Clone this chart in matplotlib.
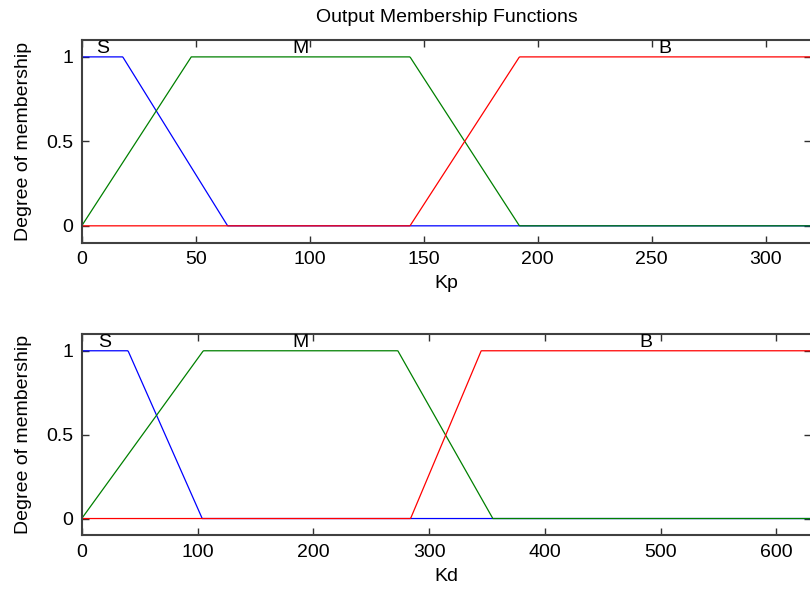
import matplotlib.pyplot as plt
import numpy as np

plt.rcParams['font.family'] = ['Liberation Sans', 'DejaVu Sans']

# trapezoid membership function parameters [a, b, c, d]
kp_range = [0, 320]
kp_names = ["S", "M", "B"]
kp_params = [[0, 0, 18, 64], [0, 48, 144, 192], [144, 192, 320, 320]]
kp_ticks = [0, 50, 100, 150, 200, 250, 300]

kd_range = [0, 630]
kd_names = ["S", "M", "B"]
kd_params = [[0, 0, 40, 104], [0, 105, 273, 355], [284, 345, 630, 630]]
kd_ticks = [0, 100, 200, 300, 400, 500, 600]

colors = ["blue", "green", "red"]


def trapmf(x, p):
    a, b, c, d = p
    y = np.ones_like(x)
    if b > a:
        y = np.where(x < b, (x - a) / (b - a), y)
    if d > c:
        y = np.where(x > c, (d - x) / (d - c), y)
    return np.clip(y, 0, 1)


def draw(ax, rng, names, params, ticks, xlabel):
    x = np.linspace(rng[0], rng[1], 1000)
    for name, p, col in zip(names, params, colors):
        ax.plot(x, trapmf(x, p), color=col, lw=0.9)
        ax.text((p[1] + p[2]) / 2, 1.0, name, ha="center", va="bottom", fontsize=14)
    ax.set_xlim(rng)
    ax.set_ylim(-0.1, 1.1)
    ax.set_xticks(ticks)
    ax.set_yticks([0, 0.5, 1])
    ax.set_yticklabels(["0", "0.5", "1"])
    ax.tick_params(direction="in", top=True, right=True, length=5, width=1,
                   labelsize=14, pad=6, color="#303030")
    for s in ax.spines.values():
        s.set_color("#404040")
        s.set_linewidth(1.5)
    ax.set_xlabel(xlabel, fontsize=14, labelpad=5)
    ax.set_ylabel("Degree of membership", fontsize=14, labelpad=10)


fig = plt.figure(figsize=(8.1, 5.9), dpi=100)
ax1 = fig.add_axes([0.1009, 0.5886, 0.9006, 0.3436])
ax2 = fig.add_axes([0.1009, 0.0927, 0.9006, 0.3412])

draw(ax1, kp_range, kp_names, kp_params, kp_ticks, "Kp")
draw(ax2, kd_range, kd_names, kd_params, kd_ticks, "Kd")
ax1.set_title("Output Membership Functions", fontsize=14, pad=13)

fig.savefig("out.png", dpi=100)
